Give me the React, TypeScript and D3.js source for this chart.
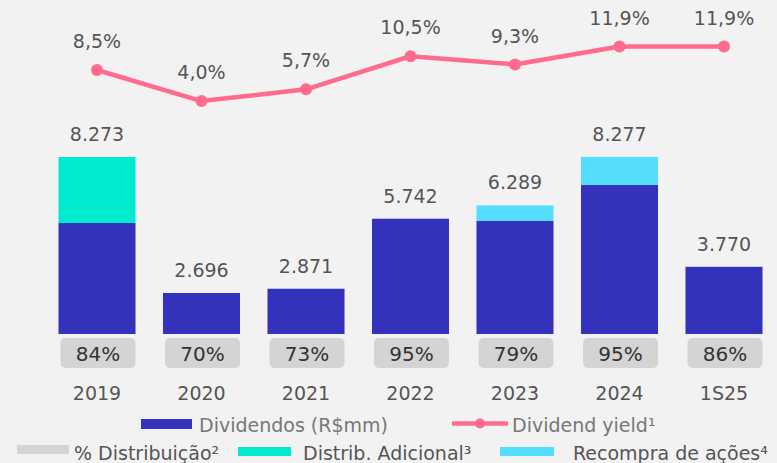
import React from "react";
import * as d3 from "d3";

const categories = ["2019", "2020", "2021", "2022", "2023", "2024", "1S25"];
const dividends = [5566, 2696, 2871, 5742, 5648, 7124, 3770];
const additional = [2707, 0, 0, 0, 0, 0, 0];
const buyback = [0, 0, 0, 0, 641, 1153, 0];
const dividendYield = [8.5, 4.0, 5.7, 10.5, 9.3, 11.9, 11.9];
const payout = [84, 70, 73, 95, 79, 95, 86];

const W = 777;
const H = 463;
const FONT = "'DejaVu Sans', sans-serif";
const C_BLUE = "#3432bc";
const C_TEAL = "#00ead0";
const C_CYAN = "#55ddfd";
const C_PINK = "#ff6b8e";
const C_GRAY = "#d4d4d4";

const locale = d3.formatLocale({ decimal: ",", thousands: ".", grouping: [3], currency: ["R$", ""] });
const fmtInt = locale.format(",d");
const fmtPct = locale.format(".1f");

export default function App() {
  const x = d3
    .scaleBand<string>()
    .domain(categories)
    .range([44.75, 776.25])
    .paddingInner(0.263)
    .paddingOuter(0.1315);
  const bw = x.bandwidth();
  const yBar = d3.scaleLinear().domain([1015, 8273]).range([334, 157]);
  const yLine = d3.scaleLinear().domain([0, 12]).range([128.6, 45.9]);

  const pts: [number, number][] = categories.map((c, i) => [
    (x(c) as number) + bw / 2,
    yLine(dividendYield[i]),
  ]);
  const line = d3.line()(pts) as string;

  return (
    <svg
      width={W}
      height={H}
      viewBox={`0 0 ${W} ${H}`}
      style={{ position: "absolute", left: 0, top: 0, fontFamily: FONT }}
    >
      <rect x={0} y={0} width={W} height={H} fill="#f2f2f2" />
      {categories.map((c, i) => {
        const x0 = x(c) as number;
        const cx = x0 + bw / 2;
        const base = yBar.domain()[0];
        const d = dividends[i];
        const a = additional[i];
        const b = buyback[i];
        const total = d + a + b;
        return (
          <g key={c}>
            <rect x={x0} y={yBar(d)} width={bw} height={yBar(base) - yBar(d)} fill={C_BLUE} />
            {a > 0 && (
              <rect x={x0} y={yBar(d + a)} width={bw} height={yBar(d) - yBar(d + a)} fill={C_TEAL} />
            )}
            {b > 0 && (
              <rect x={x0} y={yBar(d + a + b)} width={bw} height={yBar(d + a) - yBar(d + a + b)} fill={C_CYAN} />
            )}
            <text x={cx} y={yBar(total) - 16} textAnchor="middle" fontSize={19} fill="#555">
              {fmtInt(total)}
            </text>
            <rect x={x0 + 2} y={338} width={bw - 2} height={30} rx={5} fill={C_GRAY} />
            <text x={cx + 1} y={361} textAnchor="middle" fontSize={20} fill="#333">
              {payout[i]}%
            </text>
            <text x={cx} y={400} textAnchor="middle" fontSize={19} fill="#555">
              {c}
            </text>
          </g>
        );
      })}
      <path d={line} fill="none" stroke={C_PINK} strokeWidth={4.5} strokeLinejoin="round" />
      {pts.map((p, i) => (
        <g key={i}>
          <circle cx={p[0]} cy={p[1]} r={6} fill={C_PINK} />
          <text x={p[0]} y={p[1] - 22} textAnchor="middle" fontSize={19} fill="#555">
            {fmtPct(dividendYield[i])}%
          </text>
        </g>
      ))}
      {/* Legend row 1 */}
      <rect x={141} y={419} width={51} height={10} fill={C_BLUE} />
      <text x={199} y={432} fontSize={19} fill="#777">Dividendos (R$mm)</text>
      <line x1={452} x2={508} y1={423.5} y2={423.5} stroke={C_PINK} strokeWidth={4.5} />
      <circle cx={480} cy={423.5} r={5} fill={C_PINK} />
      <text x={512} y={432} fontSize={19} fill="#777">Dividend yield¹</text>
      {/* Legend row 2 */}
      <rect x={17} y={445} width={52} height={9} fill={C_GRAY} />
      <text x={74} y={460} fontSize={19} fill="#555">% Distribuição²</text>
      <rect x={238} y={447} width={53} height={9} fill={C_TEAL} />
      <text x={303} y={460} fontSize={19} fill="#555">Distrib. Adicional³</text>
      <rect x={500} y={447} width={54} height={9} fill={C_CYAN} />
      <text x={573} y={460} fontSize={19} fill="#555">Recompra de ações⁴</text>
    </svg>
  );
}
